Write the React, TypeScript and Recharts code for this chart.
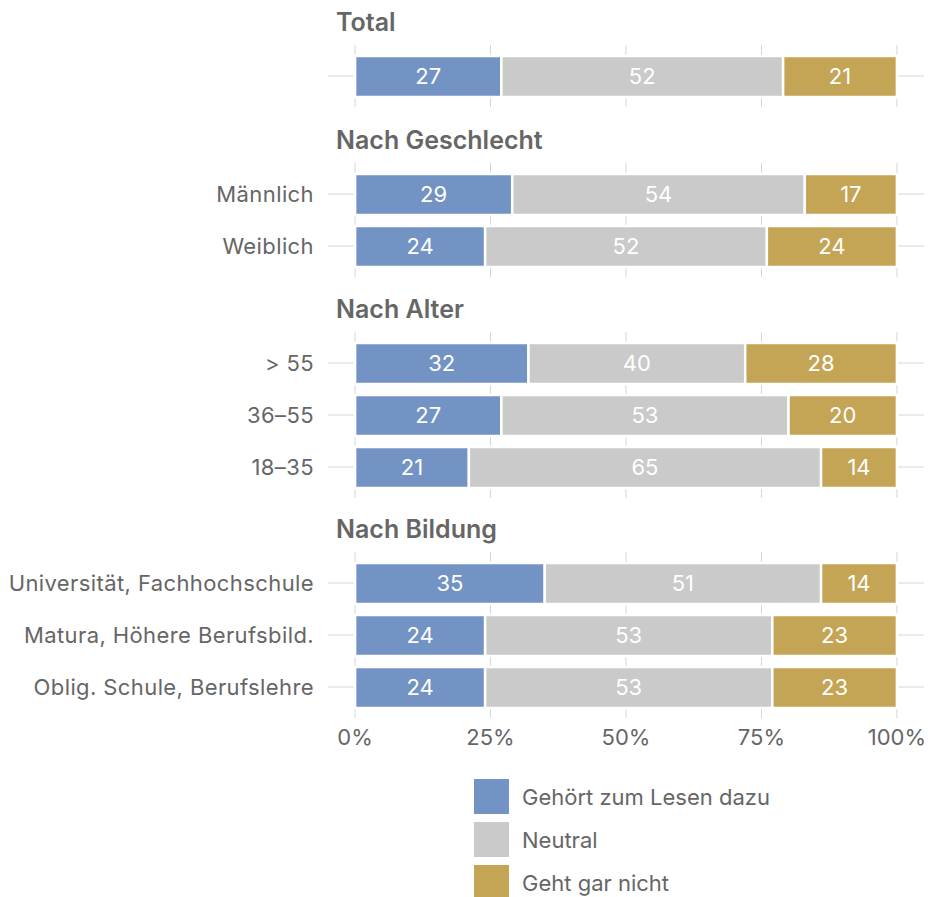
import { BarChart, Bar, XAxis, YAxis, CartesianGrid, LabelList } from 'recharts';

const groupTitles = ['Total', 'Nach Geschlecht', 'Nach Alter', 'Nach Bildung'];

const totalLabels = [''];
const geschlechtLabels = ['Männlich', 'Weiblich'];
const alterLabels = ['> 55', '36–55', '18–35'];
const bildungLabels = [
  'Universität, Fachhochschule',
  'Matura, Höhere Berufsbild.',
  'Oblig. Schule, Berufslehre',
];

// Gehört zum Lesen dazu
const gehoertValues = [[27], [29, 24], [32, 27, 21], [35, 24, 24]];
// Neutral
const neutralValues = [[52], [54, 52], [40, 53, 65], [51, 53, 53]];
// Geht gar nicht
const nichtValues = [[21], [17, 24], [28, 20, 14], [14, 23, 23]];

const seriesNames = ['Gehört zum Lesen dazu', 'Neutral', 'Geht gar nicht'];
const seriesKeys = ['gehoert', 'neutral', 'nicht'];
const seriesColors = ['#7393c4', '#cacaca', '#c4a455'];

const xTicks = [0, 25, 50, 75, 100];

const FONT = 'Inter, "Noto Sans", sans-serif';
const TEXT = '#666666';
const GRID = '#d6d6d6';

const labelSets = [totalLabels, geschlechtLabels, alterLabels, bildungLabels];
const panelTops = [45, 163, 332, 552];
const BAND = 52;

function buildRows(g: number) {
  return labelSets[g].map((label, i) => ({
    label,
    gehoert: gehoertValues[g][i],
    neutral: neutralValues[g][i],
    nicht: nichtValues[g][i],
  }));
}

const yTickStyle = { fill: TEXT, fontSize: 22, fontFamily: FONT, letterSpacing: 0.4 };
const xTickStyle = { fill: TEXT, fontSize: 22, fontFamily: FONT };

function Panel({ g, showAxis }: { g: number; showAxis: boolean }) {
  const rows = buildRows(g);
  const plotH = rows.length * BAND + 10;
  const axisH = showAxis ? 44 : 0;
  return (
    <BarChart
      layout="vertical"
      width={928}
      height={plotH + axisH}
      data={rows}
      margin={{ top: 0, right: 4, bottom: 0, left: 0 }}
      barCategoryGap={0}
    >
      <CartesianGrid stroke={GRID} strokeWidth={1} syncWithTicks />
      <XAxis
        type="number"
        domain={[-5, 105]}
        ticks={xTicks}
        allowDataOverflow
        hide={!showAxis}
        height={axisH}
        axisLine={false}
        tickLine={false}
        tickSize={0}
        tickMargin={11}
        tickFormatter={(v: number) => `${v}%`}
        tick={xTickStyle}
      />
      <YAxis
        type="category"
        dataKey="label"
        width={328}
        axisLine={false}
        tickLine={false}
        tickSize={0}
        tickMargin={14}
        padding={{ top: 5, bottom: 5 }}
        tick={yTickStyle}
      />
      {seriesKeys.map((k, i) => (
        <Bar
          key={k}
          dataKey={k}
          name={seriesNames[i]}
          stackId="s"
          fill={seriesColors[i]}
          stroke="#ffffff"
          strokeWidth={2.5}
          barSize={41}
          isAnimationActive={false}
        >
          <LabelList
            dataKey={k}
            position="center"
            fill="#ffffff"
            fontSize={22}
            fontFamily={FONT}
          />
        </Bar>
      ))}
    </BarChart>
  );
}

export default function App() {
  return (
    <div
      style={{
        position: 'absolute',
        left: 0,
        top: 0,
        width: 928,
        height: 897,
        background: '#fff',
        fontFamily: FONT,
        overflow: 'hidden',
      }}
    >
      {groupTitles.map((t, g) => (
        <div key={t}>
          <div
            style={{
              position: 'absolute',
              left: 336,
              top: panelTops[g] - 39,
              height: 32,
              lineHeight: '32px',
              fontSize: 25,
              fontWeight: 600,
              color: TEXT,
            }}
          >
            {t}
          </div>
          <div style={{ position: 'absolute', left: 0, top: panelTops[g] }}>
            <Panel g={g} showAxis={g === groupTitles.length - 1} />
          </div>
        </div>
      ))}
      {seriesNames.map((n, i) => (
        <div
          key={n}
          style={{
            position: 'absolute',
            left: 474,
            top: 779 + i * 43,
            height: 35,
            display: 'flex',
            alignItems: 'center',
          }}
        >
          <div style={{ width: 35, height: 35, background: seriesColors[i] }} />
          <span style={{ marginLeft: 13, fontSize: 22, color: TEXT }}>{n}</span>
        </div>
      ))}
    </div>
  );
}
